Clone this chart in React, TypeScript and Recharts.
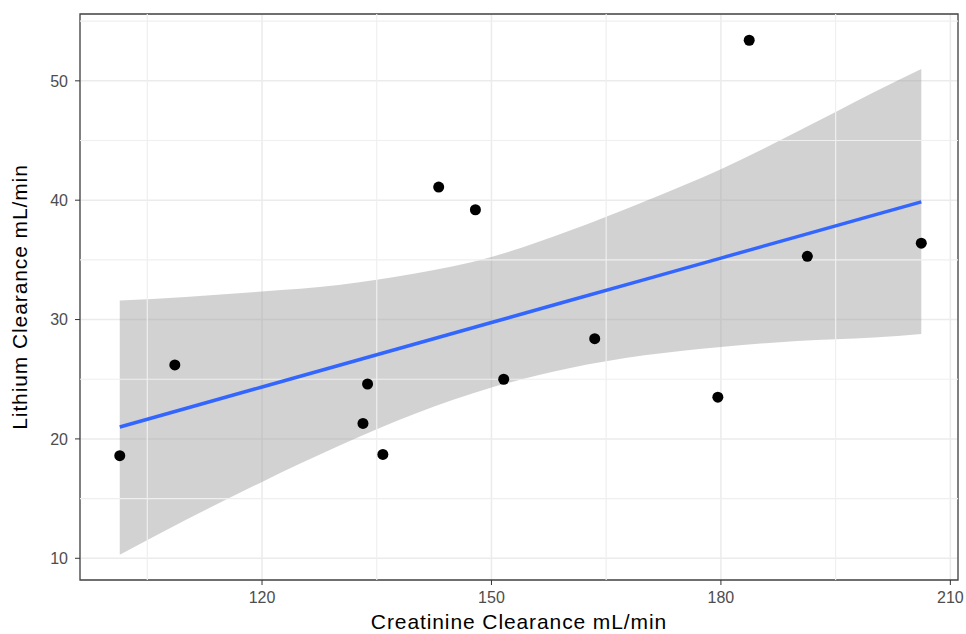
import React from 'react';
import {
  ComposedChart,
  Area,
  Line,
  Scatter,
  XAxis,
  YAxis,
  CartesianGrid,
  ReferenceLine,
  ReferenceArea,
  Label,
} from 'recharts';

// 관측값 (크레아티닌 청소율 vs 리튬 청소율)
const creatinine = [101.4, 108.6, 133.2, 133.8, 135.8, 143.1, 147.9, 151.6, 163.5, 179.6, 183.7, 191.3, 206.2];
const lithium = [18.6, 26.2, 21.3, 24.6, 18.7, 41.1, 39.2, 25.0, 28.4, 23.5, 53.4, 35.3, 36.4];

// 회귀선 + 95% 신뢰대
const bandX = [101.4, 110, 120, 130, 140, 150, 160, 170, 180, 190, 200, 206.2];
const fitY = [21.0, 22.55, 24.35, 26.15, 27.95, 29.75, 31.55, 33.35, 35.15, 36.95, 38.75, 39.86];
const bandLow = [10.3, 13.2, 16.4, 19.4, 22.1, 24.3, 25.9, 27.0, 27.7, 28.2, 28.5, 28.8];
const bandHigh = [31.6, 31.9, 32.35, 32.9, 33.85, 35.25, 37.4, 39.9, 42.6, 45.75, 49.05, 51.0];

// 축 눈금
const xTicks = [120, 150, 180, 210];
const yTicks = [10, 20, 30, 40, 50];
const xMinor = [105, 135, 165, 195];
const yMinor = [15, 25, 35, 45, 55];
const xDomain: [number, number] = [96.2, 211.0];
const yDomain: [number, number] = [8.18, 55.6];

const FONT = '"Liberation Sans", Arial, Helvetica, sans-serif';

// 검은 점 (geom_point 느낌)
const renderDot = (props: any) => <circle cx={props.cx} cy={props.cy} r={5.5} fill="#000" />;

export default function App() {
  const bandData = bandX.map((x, i) => ({ x, fit: fitY[i], band: [bandLow[i], bandHigh[i]] }));
  const points = creatinine.map((x, i) => ({ x, y: lithium[i] }));

  return (
    <div
      style={{ position: 'absolute', left: 0, top: 0, width: 966, height: 634, background: '#fff', fontFamily: FONT }}
    >
      <ComposedChart width={966} height={634} data={bandData} margin={{ top: 14, right: 8, bottom: 0, left: 0 }}>
        <CartesianGrid stroke="#EBEBEB" strokeWidth={1.5} />
        {xMinor.map((v) => (
          <ReferenceLine key={`xm-${v}`} x={v} stroke="#EFEFEF" strokeWidth={1.2} />
        ))}
        {yMinor.map((v) => (
          <ReferenceLine key={`ym-${v}`} y={v} stroke="#EFEFEF" strokeWidth={1.2} />
        ))}
        <XAxis
          type="number"
          dataKey="x"
          domain={xDomain}
          ticks={xTicks}
          allowDataOverflow
          height={54}
          axisLine={false}
          tickSize={5}
          tickMargin={7}
          tickLine={{ stroke: '#333' }}
          tick={{ fill: '#4D4D4D', fontSize: 16 }}
        >
          <Label
            value="Creatinine Clearance mL/min"
            position="insideBottom"
            offset={5}
            fill="#000"
            fontSize={21}
            style={{ letterSpacing: '0.9px' }}
          />
        </XAxis>
        <YAxis
          type="number"
          domain={yDomain}
          ticks={yTicks}
          allowDataOverflow
          width={80}
          axisLine={false}
          tickSize={5}
          tickMargin={7}
          tickLine={{ stroke: '#333' }}
          tick={{ fill: '#4D4D4D', fontSize: 16 }}
        >
          <Label
            value="Lithium Clearance mL/min"
            angle={-90}
            position="insideLeft"
            offset={20}
            fill="#000"
            fontSize={21}
            style={{ textAnchor: 'middle', letterSpacing: '0.9px' }}
          />
        </YAxis>
        <Area
          dataKey="band"
          type="monotone"
          stroke="none"
          fill="#999999"
          fillOpacity={0.44}
          activeDot={false}
          isAnimationActive={false}
        />
        <Line
          dataKey="fit"
          type="linear"
          stroke="#3366FF"
          strokeWidth={3.5}
          dot={false}
          activeDot={false}
          isAnimationActive={false}
        />
        <Scatter data={points} dataKey="y" shape={renderDot} isAnimationActive={false} />
        <ReferenceArea
          x1={xDomain[0]}
          x2={xDomain[1]}
          y1={yDomain[0]}
          y2={yDomain[1]}
          fill="none"
          stroke="#444"
          strokeWidth={1.3}
          ifOverflow="visible"
        />
      </ComposedChart>
    </div>
  );
}
